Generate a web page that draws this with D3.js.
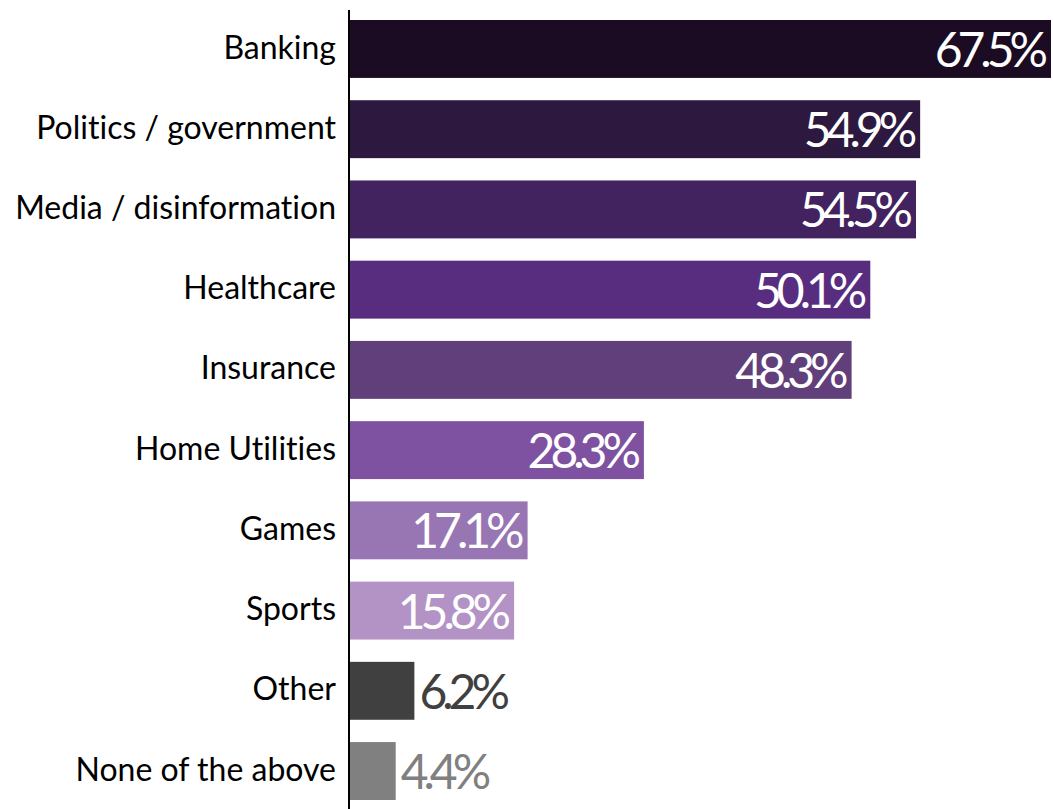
<!DOCTYPE html>
<html>
<head>
<meta charset="utf-8">
<script src="https://cdn.jsdelivr.net/npm/d3@7"></script>
<style>
  html, body { margin: 0; padding: 0; background: #ffffff; }
  svg { display: block; }
  text { font-variant-ligatures: none; font-feature-settings: "liga" 0; }
</style>
</head>
<body>
<svg id="chart" width="1053" height="809"></svg>
<script>
// Share of respondents by sector
const categories = [
  "Banking",
  "Politics / government",
  "Media / disinformation",
  "Healthcare",
  "Insurance",
  "Home Utilities",
  "Games",
  "Sports",
  "Other",
  "None of the above"
];
const values = [67.5, 54.9, 54.5, 50.1, 48.3, 28.3, 17.1, 15.8, 6.2, 4.4];
const barColors = [
  "#1b0c23", "#2d1940", "#42225f", "#582d80", "#613f7a",
  "#7e52a0", "#9876b4", "#b393c5", "#404040", "#808080"
];
// Values of small bars are written outside the bar in the bar colour
const insideLabel = [true, true, true, true, true, true, true, true, false, false];

const svg = d3.select("#chart");
const x0 = 350;

const x = d3.scaleLinear()
  .domain([0, 67.5])
  .range([x0, x0 + 701]);

const y = d3.scaleBand()
  .domain(categories)
  .range([20, 800])
  .paddingInner(0.278)
  .paddingOuter(0);

const rows = categories.map((c, i) => ({
  cat: c, val: values[i], color: barColors[i], inside: insideLabel[i]
}));

// Bars
svg.append("g")
  .selectAll("rect")
  .data(rows)
  .join("rect")
  .attr("x", x(0))
  .attr("y", d => y(d.cat))
  .attr("width", d => x(d.val) - x(0))
  .attr("height", y.bandwidth())
  .attr("fill", d => d.color);

// Category axis
const axis = d3.axisLeft(y).tickSize(0).tickPadding(13);
const gAxis = svg.append("g")
  .attr("transform", `translate(${x0 - 1},0)`)
  .call(axis);
gAxis.select(".domain").remove();
gAxis.selectAll("text")
  .attr("font-family", "Lato, 'Open Sans', sans-serif")
  .attr("font-size", 32)
  .attr("fill", "#000")
  .attr("dy", "0.3em");

// Vertical axis line
svg.append("line")
  .attr("x1", x0 - 1).attr("x2", x0 - 1)
  .attr("y1", 10).attr("y2", 809)
  .attr("stroke", "#000")
  .attr("stroke-width", 2);

// Value labels
svg.append("g")
  .selectAll("text")
  .data(rows)
  .join("text")
  .attr("x", d => d.inside ? x(d.val) - 8 : x(d.val) + 5)
  .attr("y", d => y(d.cat) + y.bandwidth() / 2 + 18)
  .attr("text-anchor", d => d.inside ? "end" : "start")
  .attr("font-family", "Lato, sans-serif")
  .attr("font-size", 48)
  .attr("letter-spacing", -5)
  .attr("fill", d => d.inside ? "#ffffff" : d.color)
  .text(d => d.val.toFixed(1) + "%");
</script>
</body>
</html>
